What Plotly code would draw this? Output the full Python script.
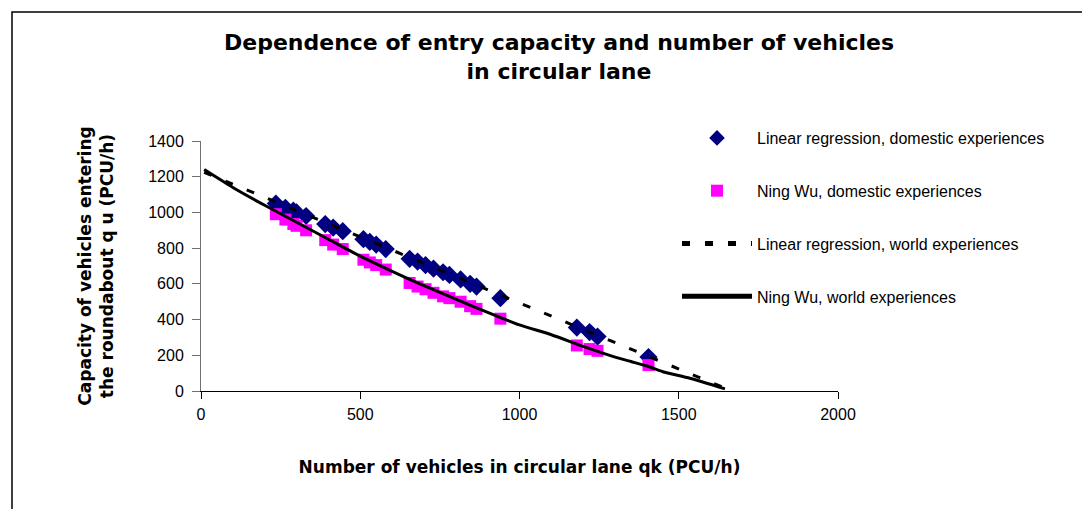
import plotly.graph_objects as go

# Domestic experiences (shared x values)
qk_dom = [235, 265, 290, 300, 330, 390, 415, 445, 510, 530, 550, 580, 655, 680,
          705, 730, 760, 780, 815, 845, 865, 940, 1180, 1220, 1245, 1405]
lr_dom = [1050, 1025, 1010, 1000, 980, 935, 915, 895, 850, 835, 820, 795, 740, 725,
          705, 685, 665, 650, 625, 600, 585, 520, 355, 330, 305, 190]
nw_dom = [990, 960, 935, 925, 900, 845, 820, 795, 735, 720, 705, 680, 605, 585,
          570, 550, 530, 520, 500, 475, 460, 405, 255, 235, 225, 145]

# World experiences
lr_world_x = [10, 1640]
lr_world_y = [1225, 20]
nw_world_x = [10, 100, 200, 300, 400, 500, 600, 700, 800, 900, 1000, 1100, 1200,
              1300, 1350, 1400, 1450, 1535, 1645]
nw_world_y = [1240, 1140, 1040, 945, 850, 755, 670, 590, 515, 440, 370, 315, 250,
              190, 165, 140, 108, 71, 12]

x_ticks = [0, 500, 1000, 1500, 2000]
y_ticks = [0, 200, 400, 600, 800, 1000, 1200, 1400]

FONT = "Liberation Sans, Arial, sans-serif"
BFONT = "DejaVu Sans, Liberation Sans, sans-serif"

fig = go.Figure()
fig.add_trace(go.Scatter(
    x=qk_dom, y=lr_dom, mode="markers", name="Linear regression, domestic experiences",
    legendgroup="a",
    marker=dict(symbol="diamond", size=14, color="#000080", line=dict(width=0))))
fig.add_trace(go.Scatter(
    x=qk_dom, y=nw_dom, mode="markers", name="Ning Wu, domestic experiences",
    legendgroup="b",
    marker=dict(symbol="square", size=12, color="#FF00FF", line=dict(width=0))))
fig.add_trace(go.Scatter(
    x=lr_world_x, y=lr_world_y, mode="lines", name="Linear regression, world experiences",
    legendgroup="c",
    line=dict(color="black", width=3, dash="8px,15px")))
fig.add_trace(go.Scatter(
    x=nw_world_x, y=nw_world_y, mode="lines", name="Ning Wu, world experiences",
    legendgroup="d",
    line=dict(color="black", width=3, shape="spline", smoothing=0.6)))

# page is offset by 8px (body margin); figure coords = page coords - 8
OFF = 8
L, R, T, B = 201 - OFF, 1090 - (838 - OFF), 141 - OFF, 509 - (391 - OFF)
pw = 1090 - L - R
ph = 509 - T - B

def px(xp):
    return (xp - OFF - L) / pw

def py(yp):
    return (509 - B - (yp - OFF)) / ph

fig.update_layout(
    width=1090, height=509, autosize=False,
    margin=dict(l=L, r=R, t=T, b=B, autoexpand=False),
    paper_bgcolor="white", plot_bgcolor="white",
    font=dict(family=FONT, color="black"),
    title=dict(
        text="<b>Dependence of entry capacity and number of vehicles<br>in circular lane</b>",
        x=(559 - OFF) / 1090, xanchor="center",
        y=(509 - 42) / 509, yanchor="top", yref="container",
        font=dict(family=BFONT, size=22, color="black")),
    xaxis=dict(
        range=[0, 2000], tickvals=x_ticks, ticks="outside", ticklen=7,
        tickcolor="black", showline=True, linecolor="black", linewidth=1,
        showgrid=False, zeroline=False, ticklabelstandoff=2,
        tickfont=dict(family=FONT, size=16, color="black"),
        title=dict(text="<b>Number of vehicles in circular lane qk (PCU/h)</b>",
                   font=dict(family=BFONT, size=17, color="black"), standoff=38)),
    yaxis=dict(
        range=[0, 1400], tickvals=y_ticks, ticks="outside", ticklen=8,
        tickcolor="#707070", showline=True, linecolor="#707070", linewidth=1,
        showgrid=False, zeroline=False, ticklabelstandoff=5,
        tickfont=dict(family=FONT, size=16, color="black"),
        title=dict(text="<b>Capacity of vehicles entering<br>the roundabout q u (PCU/h)</b>",
                   font=dict(family=BFONT, size=17, color="black"), standoff=30)),
    legend=dict(
        x=px(677), y=py(121), xanchor="left", yanchor="top",
        bgcolor="rgba(0,0,0,0)", font=dict(family=FONT, size=16, color="black"),
        tracegroupgap=29, itemsizing="constant", traceorder="grouped",
        itemwidth=70),
    showlegend=True,
    shapes=[dict(type="rect", xref="paper", yref="paper",
                 x0=px(12), x1=px(1087), y0=py(530), y1=py(12),
                 line=dict(color="black", width=1.5), fillcolor="rgba(0,0,0,0)",
                 layer="below")],
)

fig.write_html("out.html")
